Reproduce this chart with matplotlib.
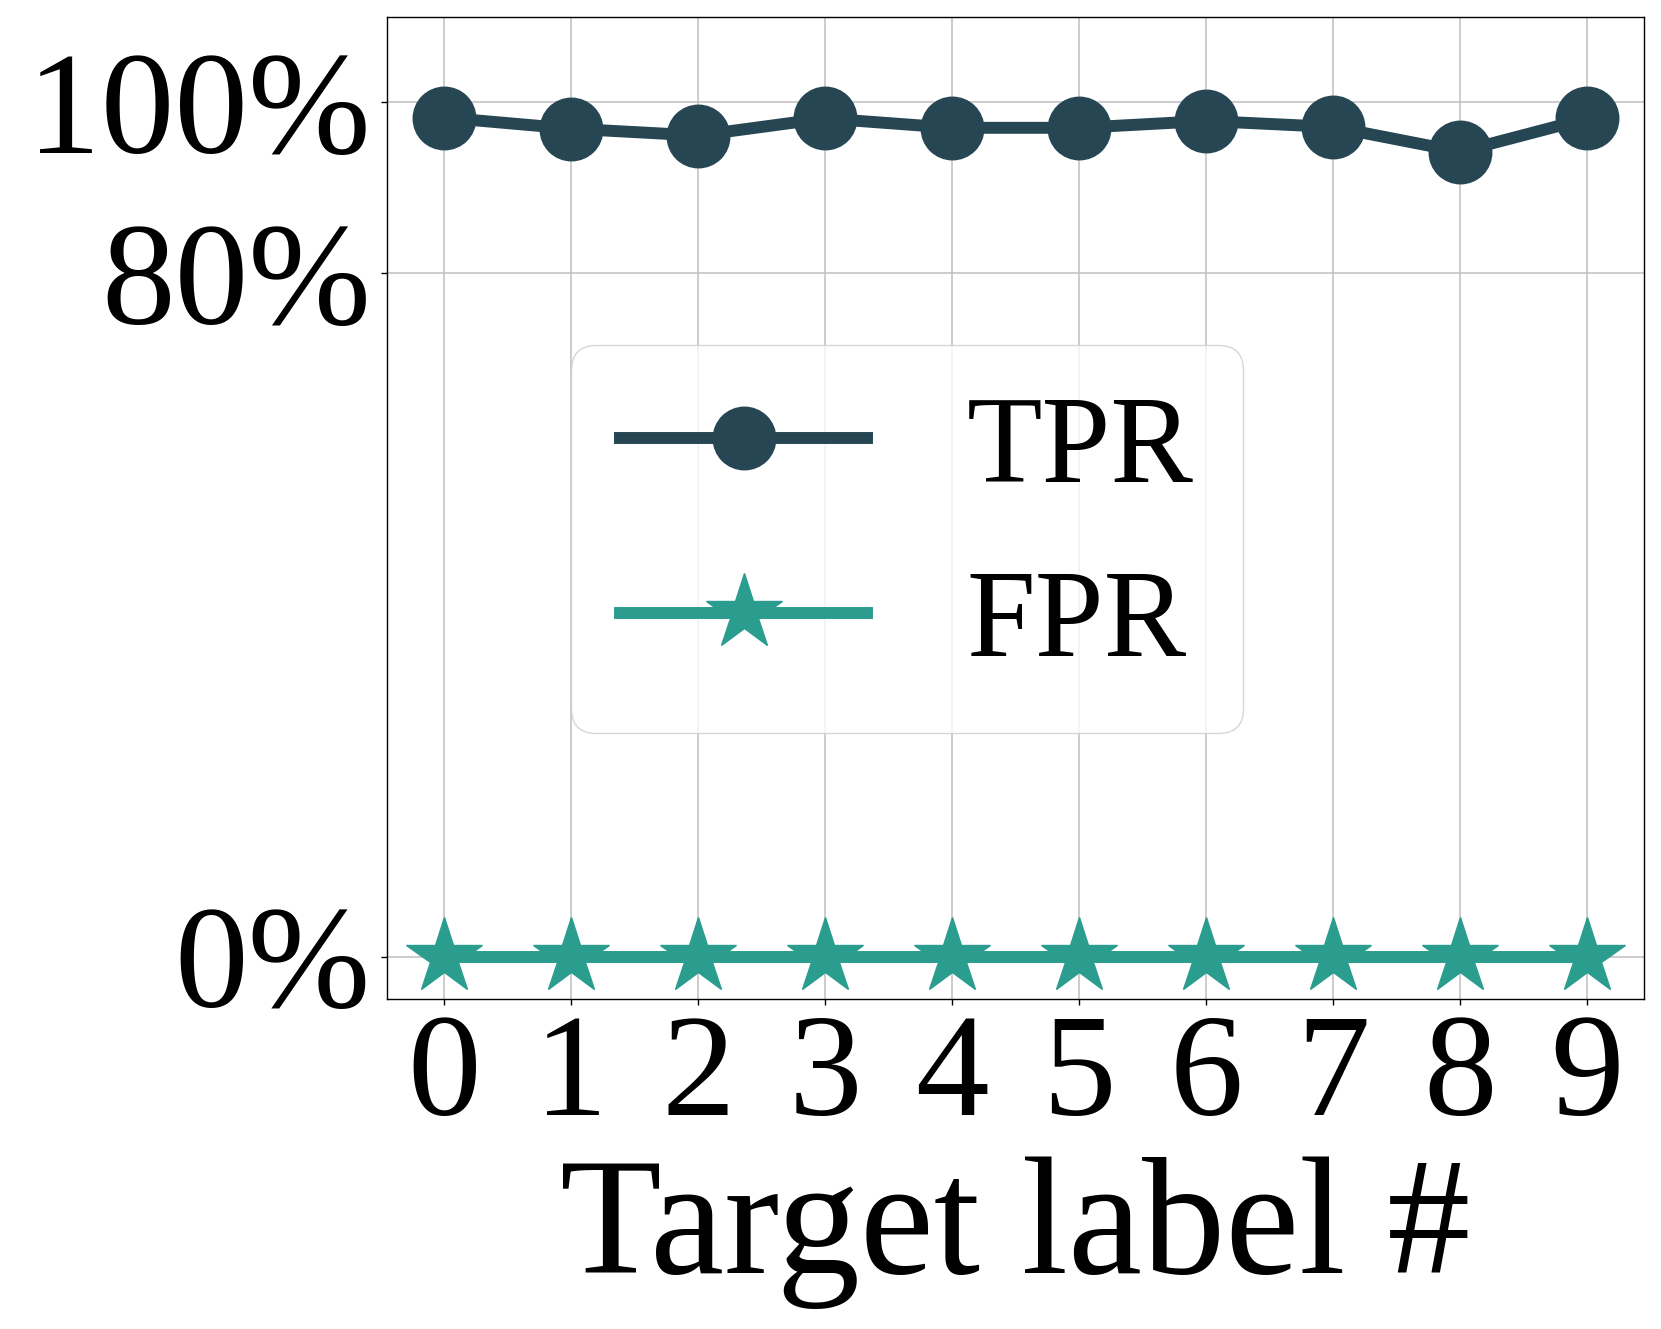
import matplotlib
matplotlib.use("Agg")
import matplotlib.pyplot as plt
from matplotlib.ticker import FuncFormatter

plt.rcParams["font.family"] = ["Liberation Serif", "DejaVu Serif"]

# data (percent)
labels = [0, 1, 2, 3, 4, 5, 6, 7, 8, 9]
tpr = [98.2, 96.9, 96.1, 98.1, 97.0, 97.0, 97.8, 97.1, 94.2, 98.1]
fpr = [0.0, 0.0, 0.0, 0.0, 0.0, 0.0, 0.0, 0.0, 0.0, 0.0]
y_ticks = [0, 80, 100]

fig = plt.figure(figsize=(16.61, 13.29), dpi=100)
ax = fig.add_axes([0.2328, 0.2481, 0.9900 - 0.2328, 0.9874 - 0.2481])

ax.plot(labels, tpr, color="#264653", lw=8.6, marker="o", ms=45, label="TPR", zorder=3)
ax.plot(labels, fpr, color="#2a9d8f", lw=8.6, marker="*", ms=57, label="FPR", zorder=3)

ax.set_xlim(-0.45, 9.45)
ax.set_ylim(-5, 110)
ax.set_xticks(labels)
ax.set_yticks(y_ticks)
ax.yaxis.set_major_formatter(FuncFormatter(lambda v, p: f"{v:.0f}%"))
ax.tick_params(axis="both", labelsize=106, length=4, width=1, pad=7.4)
ax.tick_params(axis="x", pad=6.5)
ax.grid(True, color="#bfbfbf", lw=1.1)
ax.set_axisbelow(True)
for s in ax.spines.values():
    s.set_linewidth(1.0)

ax.set_xlabel("Target label #", fontsize=120, labelpad=7.5)

ax.legend(loc="center", bbox_to_anchor=(0.4135, 0.4686), fontsize=89,
          handlelength=2.0, handletextpad=0.8, labelspacing=0.49)

fig.savefig("out.png", dpi=100)
